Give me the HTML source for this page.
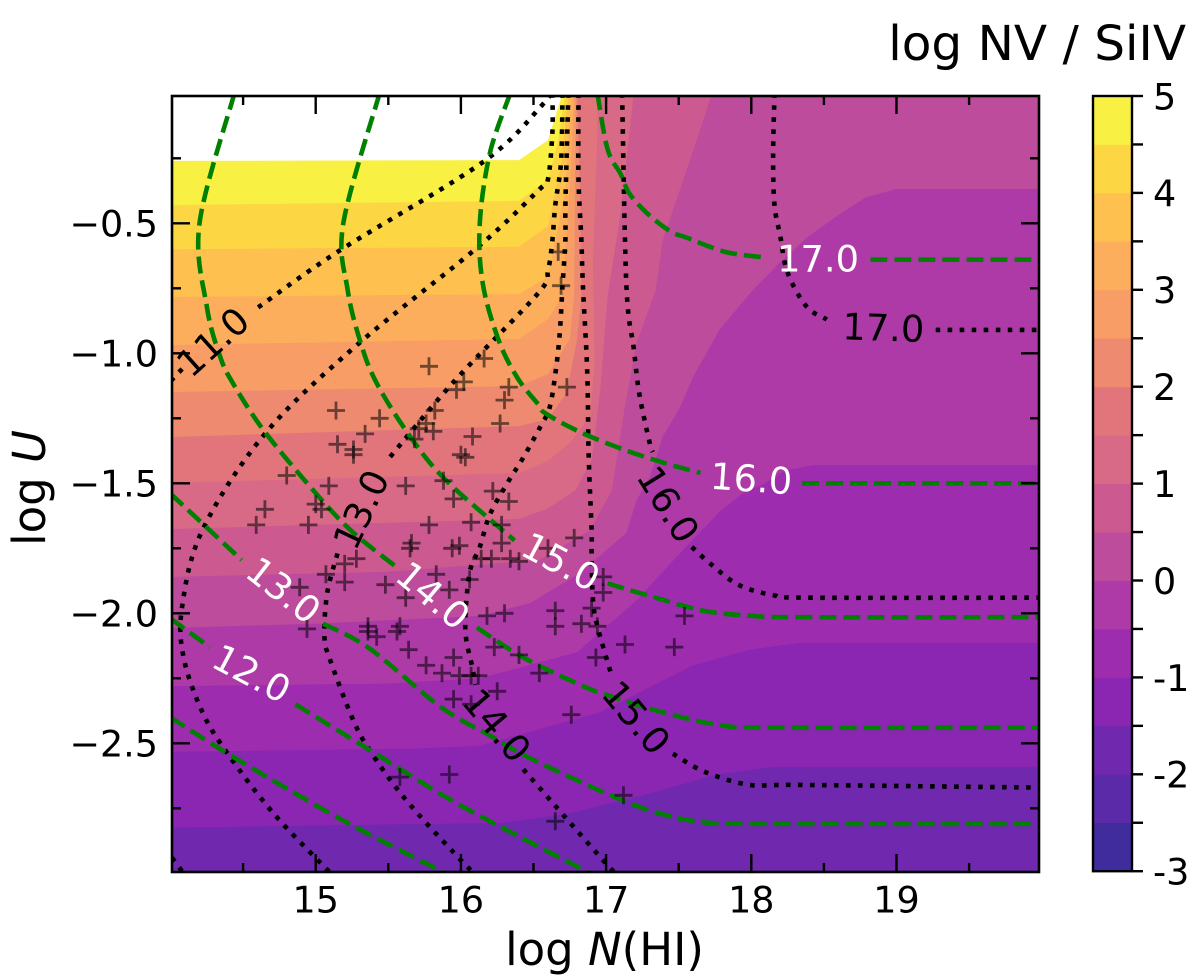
<!DOCTYPE html>
<html lang="en">
<head>
<meta charset="utf-8">
<title>log NV / SiIV contour chart</title>
<style>
html,body{margin:0;padding:0;background:#fff;}
svg{display:block;}
text{font-family:"DejaVu Sans","Liberation Sans",sans-serif;fill:#000;}
</style>
</head>
<body>
<svg id="chart" xmlns="http://www.w3.org/2000/svg" width="1200" height="975" viewBox="0 0 1200 975">
  <defs><clipPath id="plotClip"><rect x="172" y="96" width="867" height="776"/></clipPath></defs>
  <rect x="0" y="0" width="1200" height="975" fill="#fff"/>
  <g id="plotArea" clip-path="url(#plotClip)"></g>
  <g id="axesLayer"></g>
  <g id="cbarLayer"></g>
  <text x="604.5" y="965" font-size="45" text-anchor="middle">log <tspan font-style="italic">N</tspan>(HI)</text>
  <text transform="translate(45,488) rotate(-90)" font-size="45" text-anchor="middle">log <tspan font-style="italic">U</tspan></text>
  <text x="1186" y="60" font-size="48.5" text-anchor="end">log NV / SiIV</text>
</svg>
<script>
// ---- colour levels (value boundaries and their band colours) ----
const levels = [-3,-2.5,-2,-1.5,-1,-0.5,0,0.5,1,1.5,2,2.5,3,3.5,4,4.5,5];
const bandColors = ['#402C9C','#5B2AA8','#7028AF','#8A26B2','#9D2CAF','#AE3AA8','#BD4C9C','#CC5A90','#D86A88','#E2757C','#EE8A70','#F79D65','#FDAE5C','#FEC04F','#FDD743','#F8F043'];
const cbarTickValues = [-3,-2,-1,0,1,2,3,4,5];
const cbarTickLabels = ['-3','-2','-1','0','1','2','3','4','5'];

// ---- filled-contour boundaries: [log N(HI), log U] per level ----
const levelM15 = [[14,-2.825],[15.8,-2.81],[16.29,-2.806],[16.75,-2.77],[16.96,-2.74],[17.32,-2.69],[17.76,-2.62],[18.17,-2.59],[20,-2.59]];
const levelM10 = [[14,-2.533],[15.7,-2.52],[16.13,-2.51],[16.96,-2.38],[17.6,-2.2],[17.99,-2.14],[18.33,-2.114],[20,-2.114]];
const levelM05 = [[14,-2.28],[15.5,-2.27],[16.13,-2.25],[16.8,-2.15],[17.21,-1.95],[17.49,-1.78],[17.78,-1.61],[17.97,-1.526],[18.06,-1.51],[18.24,-1.45],[18.43,-1.43],[20,-1.43]];
const levelP00 = [[14,-2.056],[15,-2.04],[16.13,-2.01],[16.48,-1.96],[16.82,-1.845],[17.14,-1.69],[17.21,-1.565],[17.3,-1.476],[17.39,-1.32],[17.51,-1.207],[17.6,-1.09],[17.78,-0.91],[18,-0.764],[18.18,-0.66],[18.38,-0.556],[18.6,-0.468],[18.79,-0.4],[19,-0.368],[20,-0.368]];
const levelP05 = [[14,-1.86],[15.5,-1.84],[16.54,-1.795],[16.89,-1.68],[17.04,-1.526],[17.13,-1.2],[17.21,-0.96],[17.34,-0.76],[17.39,-0.565],[17.6,-0.22],[17.73,0]];
const levelP10 = [[14,-1.676],[16.4,-1.637],[16.6,-1.597],[16.79,-1.526],[16.9,-1.41],[16.96,-1.14],[17.01,-0.78],[17.1,-0.46],[17.19,0]];
const levelP15 = [[14,-1.499],[16.4,-1.46],[16.6,-1.414],[16.75,-1.345],[16.89,-1.24],[16.92,-1.037],[16.91,-0.653],[16.94,-0.14],[16.94,0]];
const levelP20 = [[14,-1.322],[16.4,-1.28],[16.6,-1.253],[16.73,-1.15],[16.8,-0.945],[16.83,-0.78],[16.82,-0.37],[16.8,0]];
const levelP25 = [[14,-1.149],[16.4,-1.126],[16.6,-1.08],[16.75,-0.945],[16.78,-0.78],[16.79,0]];
const levelP30 = [[14,-0.968],[16.4,-0.945],[16.6,-0.868],[16.7,-0.78],[16.75,-0.37],[16.78,0]];
const levelP35 = [[14,-0.783],[16.4,-0.772],[16.6,-0.705],[16.72,-0.372],[16.76,0]];
const levelP40 = [[14,-0.6],[16.4,-0.59],[16.6,-0.51],[16.69,-0.276],[16.74,0]];
const levelP45 = [[14,-0.43],[16.4,-0.414],[16.6,-0.333],[16.67,-0.18],[16.72,0]];
const levelP50 = [[14,-0.26],[16.4,-0.257],[16.6,-0.18],[16.7,0]];

// ---- dotted black contours (segments broken at their labels) ----
const black11a = [[16.61,0],[16.56,-0.045],[16.15,-0.265],[15.15,-0.61],[14.6,-0.825]];
const black11b = [[14.08,-1.06],[13.98,-1.12]];
const black11c = [[14.01,-2.94],[14.09,-3.0]];
const black12 = [[16.63,0],[16.63,-0.15],[16.6,-0.33],[16.54,-0.37],[16.12,-0.59],[15.28,-0.97],[14.65,-1.31],[14.22,-1.68],[14.08,-1.975],[14.09,-2.17],[14.22,-2.38],[14.4,-2.545],[14.71,-2.77],[15.06,-2.975],[15.11,-3.0]];
const black13a = [[16.7,0],[16.69,-0.26],[16.65,-0.43],[16.63,-0.565],[16.6,-0.68],[16.53,-0.77],[15.95,-1.11],[15.51,-1.4]];
const black13b = [[15.15,-1.77],[15.08,-1.92],[15.06,-2.09],[15.1,-2.18],[15.25,-2.4],[15.37,-2.525],[15.61,-2.71],[15.95,-2.92],[16.09,-3.0]];
const black14a = [[16.74,0],[16.72,-0.43],[16.72,-0.56],[16.7,-0.74],[16.68,-0.93],[16.65,-1.08],[16.61,-1.21],[16.54,-1.29],[16.42,-1.41],[16.33,-1.49],[16.2,-1.62],[16.13,-1.745],[16.06,-1.845],[16.03,-2.06],[16.08,-2.21],[16.1,-2.275]];
const black14b = [[16.43,-2.6],[16.98,-2.95],[17.07,-3.0]];
const black15a = [[16.81,0],[16.81,-0.33],[16.83,-0.565],[16.84,-0.74],[16.87,-1.07],[16.88,-1.395],[16.9,-1.68],[16.9,-1.77],[16.91,-1.95],[16.94,-2.05],[17.03,-2.225]];
const black15b = [[17.46,-2.54],[17.68,-2.61],[17.99,-2.66],[18.33,-2.66],[19.93,-2.67]];
const black16a = [[17.11,0],[17.14,-0.74],[17.19,-0.98],[17.23,-1.16],[17.3,-1.345],[17.32,-1.38]];
const black16b = [[17.59,-1.745],[17.72,-1.81],[17.91,-1.89],[18.15,-1.93],[18.4,-1.94],[20,-1.94]];
const black17a = [[18.16,0],[18.15,-0.245],[18.16,-0.43],[18.2,-0.55],[18.25,-0.69],[18.38,-0.82],[18.52,-0.87]];
const black17b = [[19.27,-0.91],[20,-0.91]];

// ---- dashed green contours ----
const green11 = [[14,-2.4],[14.41,-2.545],[15.15,-2.785],[15.84,-2.985],[15.88,-3.0]];
const green12a = [[14,-2.02],[14.27,-2.13]];
const green12b = [[14.86,-2.35],[15.37,-2.525],[15.97,-2.73],[16.82,-2.98],[16.89,-3.0]];
const green13a = [[14,-1.54],[14.49,-1.795]];
const green13b = [[15.05,-2.04],[15.37,-2.135],[15.86,-2.36],[16.2,-2.47],[16.45,-2.55],[17.03,-2.7],[17.37,-2.77],[17.69,-2.805],[18.11,-2.81],[20,-2.81]];
const green14a = [[14.44,0],[14.2,-0.5],[14.25,-0.82],[14.34,-1.01],[14.43,-1.115],[14.64,-1.295],[14.98,-1.525],[15.24,-1.68],[15.55,-1.82]];
const green14b = [[16.11,-2.055],[16.43,-2.17],[16.82,-2.275],[17.01,-2.315],[17.32,-2.37],[17.78,-2.43],[18.2,-2.44],[20,-2.44]];
const green15a = [[15.44,0],[15.19,-0.5],[15.22,-0.755],[15.31,-0.96],[15.42,-1.115],[15.65,-1.32],[15.9,-1.49],[16.37,-1.72]];
const green15b = [[17.01,-1.885],[17.28,-1.93],[17.67,-1.99],[18.01,-2.01],[18.34,-2.015],[20,-2.015]];
const green16a = [[16.34,0],[16.2,-0.23],[16.13,-0.5],[16.15,-0.73],[16.26,-0.95],[16.39,-1.095],[16.53,-1.195],[16.58,-1.23],[16.81,-1.3],[17.12,-1.37],[17.42,-1.425],[17.65,-1.46]];
const green16b = [[18.35,-1.5],[20,-1.5]];
const green17a = [[16.94,0],[17.01,-0.215],[17.1,-0.31],[17.16,-0.385],[17.28,-0.46],[17.44,-0.53],[17.56,-0.556],[17.82,-0.61],[18.07,-0.63]];
const green17b = [[18.82,-0.64],[20,-0.64]];

// ---- inline contour labels: x, y, angle, text ----
const greenLabels = [[18.46,-0.633,0,'17.0'],[18.0,-1.48,4,'16.0'],[16.69,-1.8,28,'15.0'],[15.81,-1.93,40,'14.0'],[14.78,-1.91,38,'13.0'],[14.56,-2.23,28,'12.0']];
const blackLabels = [[18.91,-0.9,2,'17.0'],[17.43,-1.58,58,'16.0'],[17.21,-2.4,50,'15.0'],[16.25,-2.43,50,'14.0'],[15.31,-1.6,-65,'13.0'],[14.29,-0.955,-42,'11.0']];

// ---- observed sightlines ----
const sightX = [16.67,16.69,15.78,16.16,16.02,15.97,16.33,16.73,16.30,15.14,15.44,15.82,16.27,15.34,15.76,15.71,15.81,15.68,16.08,15.15,15.26,15.26,16.00,16.03,14.80,15.09,15.62,15.88,16.22,16.33,15.95,14.65,15.00,15.04,14.59,14.95,15.78,16.07,16.28,16.28,16.78,15.66,15.65,15.94,15.99,16.60,16.14,16.21,16.34,16.40,15.28,15.20,15.07,15.20,15.83,16.06,15.48,14.89,15.92,15.62,16.98,16.98,16.90,16.65,16.30,16.18,14.94,15.36,15.58,15.36,15.56,15.42,16.65,16.83,16.94,17.54,17.47,17.13,15.64,15.76,15.95,15.87,15.99,16.07,16.12,16.23,16.40,16.54,16.93,16.25,15.95,16.07,16.76,15.58,15.92,16.65,17.12];
const sightY = [-0.61,-0.74,-1.05,-1.02,-1.11,-1.14,-1.13,-1.13,-1.18,-1.22,-1.25,-1.22,-1.27,-1.31,-1.27,-1.29,-1.30,-1.33,-1.32,-1.35,-1.37,-1.39,-1.39,-1.40,-1.47,-1.51,-1.51,-1.49,-1.53,-1.57,-1.56,-1.60,-1.58,-1.60,-1.66,-1.66,-1.66,-1.65,-1.66,-1.73,-1.71,-1.73,-1.75,-1.75,-1.74,-1.75,-1.79,-1.79,-1.79,-1.80,-1.79,-1.81,-1.85,-1.88,-1.85,-1.87,-1.89,-1.90,-1.91,-1.94,-1.86,-1.92,-1.98,-1.99,-2.00,-2.01,-2.06,-2.05,-2.05,-2.07,-2.07,-2.09,-2.05,-2.04,-2.05,-2.01,-2.13,-2.12,-2.14,-2.20,-2.17,-2.23,-2.24,-2.24,-2.24,-2.13,-2.16,-2.23,-2.17,-2.30,-2.33,-2.35,-2.39,-2.63,-2.62,-2.80,-2.70];

// ---- axis ticks ----
const xMajor = [15,16,17,18,19];
const xMajorLabels = ['15','16','17','18','19'];
const xMinor = [14.5,15.5,16.5,17.5,18.5,19.5];
const yMajor = [-0.5,-1,-1.5,-2,-2.5];
const yMajorLabels = ['\u22120.5','\u22121.0','\u22121.5','\u22122.0','\u22122.5'];
const yMinor = [-0.25,-0.75,-1.25,-1.75,-2.25,-2.75];

// ---- axis functions ----
const xPx = v => 315.7 + (v - 15) * 145.2;
const yPx = v => 223.3 + (-0.5 - v) * 260;
const cbY = v => 96 + (5 - v) * 96.9;
const NS = 'http://www.w3.org/2000/svg';
const plot = document.getElementById('plotArea');
const axesLayer = document.getElementById('axesLayer');
const cbarLayer = document.getElementById('cbarLayer');

function mk(tag, attrs, parent) {
  const el = document.createElementNS(NS, tag);
  for (const k in attrs) el.setAttribute(k, attrs[k]);
  parent.appendChild(el);
  return el;
}
function smoothPath(points) {
  const p = points.map(q => [xPx(q[0]), yPx(q[1])]);
  let d = 'M' + p[0][0].toFixed(1) + ' ' + p[0][1].toFixed(1);
  for (let i = 0; i < p.length - 1; i++) {
    const a = p[Math.max(i - 1, 0)], b = p[i], c = p[i + 1], e = p[Math.min(i + 2, p.length - 1)];
    const c1x = b[0] + (c[0] - a[0]) / 6, c1y = b[1] + (c[1] - a[1]) / 6;
    const c2x = c[0] - (e[0] - b[0]) / 6, c2y = c[1] - (e[1] - b[1]) / 6;
    d += 'C' + c1x.toFixed(1) + ' ' + c1y.toFixed(1) + ' ' + c2x.toFixed(1) + ' ' + c2y.toFixed(1) + ' ' + c[0].toFixed(1) + ' ' + c[1].toFixed(1);
  }
  return d;
}

// filled bands, lowest first
const base = mk('rect', {x: 172, y: 96, width: 867, height: 776, fill: bandColors[2]}, plot);



const boundaries = [
  [levelM15, bandColors[3]], [levelM10, bandColors[4]], [levelM05, bandColors[5]], [levelP00, bandColors[6]],
  [levelP05, bandColors[7]], [levelP10, bandColors[8]], [levelP15, bandColors[9]], [levelP20, bandColors[10]],
  [levelP25, bandColors[11]], [levelP30, bandColors[12]], [levelP35, bandColors[13]], [levelP40, bandColors[14]],
  [levelP45, bandColors[15]], [levelP50, '#ffffff']
];
boundaries.forEach(b => {
  const path = b[0];
  const last = path[path.length - 1];
  const closed = path.concat([[last[0], 0.1], [13.9, 0.1], [13.9, path[0][1]]]);
  const pts = closed.map(q => xPx(q[0]).toFixed(1) + ',' + yPx(q[1]).toFixed(1)).join(' ');
  const poly = mk('polygon', {points: pts, fill: b[1]}, plot);
  
  
});

// black dotted contours
[black11a, black11b, black11c, black12, black13a, black13b, black14a, black14b, black15a, black15b, black16a, black16b, black17a, black17b].forEach(seg => {
  const line = mk('path', {d: smoothPath(seg), fill: 'none', stroke: '#000', 'stroke-width': 4.6, 'stroke-dasharray': '4.6 7.4'}, plot);
  
  
});

// green dashed contours
[green11, green12a, green12b, green13a, green13b, green14a, green14b, green15a, green15b, green16a, green16b, green17a, green17b].forEach(seg => {
  const line = mk('path', {d: smoothPath(seg), fill: 'none', stroke: '#008000', 'stroke-width': 4.6, 'stroke-dasharray': '17 7'}, plot);
  
  
});

// sightline markers
sightX.forEach((x, i) => {
  const px = xPx(x), py = yPx(sightY[i]);
  const m = mk('path', {d: 'M' + (px - 9).toFixed(1) + ' ' + py.toFixed(1) + 'H' + (px + 9).toFixed(1) + 'M' + px.toFixed(1) + ' ' + (py - 9).toFixed(1) + 'V' + (py + 9).toFixed(1), fill: 'none', stroke: '#000', 'stroke-opacity': 0.55, 'stroke-width': 2.8}, plot);
  
  
});

// inline contour labels
function addLabels(list, color, nameValue) {
  list.forEach(l => {
    const px = xPx(l[0]), py = yPx(l[1]);
    const t = mk('text', {x: px, y: py + 13.4, 'font-size': 36.8, 'text-anchor': 'middle', transform: 'rotate(' + l[2] + ' ' + px.toFixed(1) + ' ' + py.toFixed(1) + ')', style: 'fill:' + color}, plot);
    t.textContent = l[3];
    
    
  });
}
addLabels(greenLabels, '#ffffff', 'green-contour-label');
addLabels(blackLabels, '#000000', 'black-contour-label');

// ticks (inward on all four sides)
function tick(x1, y1, x2, y2, parent, nameValue) {
  const t = mk('line', {x1: x1, y1: y1, x2: x2, y2: y2, stroke: '#000', 'stroke-width': 2.4}, parent);
  
  
}
xMajor.forEach(v => {
  tick(xPx(v), 872, xPx(v), 854, axesLayer, 'x-major-tick');
  tick(xPx(v), 96, xPx(v), 114, axesLayer, 'x-major-tick-top');
});
xMinor.forEach(v => {
  tick(xPx(v), 872, xPx(v), 863, axesLayer, 'x-minor-tick');
  tick(xPx(v), 96, xPx(v), 105, axesLayer, 'x-minor-tick-top');
});
yMajor.forEach(v => {
  tick(172, yPx(v), 190, yPx(v), axesLayer, 'y-major-tick');
  tick(1039, yPx(v), 1021, yPx(v), axesLayer, 'y-major-tick-right');
});
yMinor.forEach(v => {
  tick(172, yPx(v), 181, yPx(v), axesLayer, 'y-minor-tick');
  tick(1039, yPx(v), 1030, yPx(v), axesLayer, 'y-minor-tick-right');
});
xMajor.forEach((v, i) => {
  const t = mk('text', {x: xPx(v), y: 912.3, 'font-size': 36.5, 'text-anchor': 'middle'}, axesLayer);
  t.textContent = xMajorLabels[i];
  
  
});
yMajor.forEach((v, i) => {
  const t = mk('text', {x: 158, y: yPx(v) + 13.4, 'font-size': 36.5, 'text-anchor': 'end'}, axesLayer);
  t.textContent = yMajorLabels[i];
  
  
});
const frame = mk('rect', {x: 172, y: 96, width: 867, height: 776, fill: 'none', stroke: '#000', 'stroke-width': 2.6}, axesLayer);



// colorbar
bandColors.forEach((c, i) => {
  const top = cbY(levels[i + 1]), bot = cbY(levels[i]);
  const r = mk('rect', {x: 1093, y: top.toFixed(1), width: 39, height: (bot - top + 0.4).toFixed(1), fill: c}, cbarLayer);
  
  
});
levels.forEach(v => {
  tick(1132, cbY(v), 1143, cbY(v), cbarLayer, 'colorbar-tick');
});
cbarTickValues.forEach((v, i) => {
  const t = mk('text', {x: 1153, y: cbY(v) + 13.4, 'font-size': 36.5}, cbarLayer);
  t.textContent = cbarTickLabels[i];
  
  
});
const cbFrame = mk('rect', {x: 1093, y: 96, width: 39, height: cbY(-3) - 96, fill: 'none', stroke: '#000', 'stroke-width': 2.4}, cbarLayer);


</script>
</body>
</html>
